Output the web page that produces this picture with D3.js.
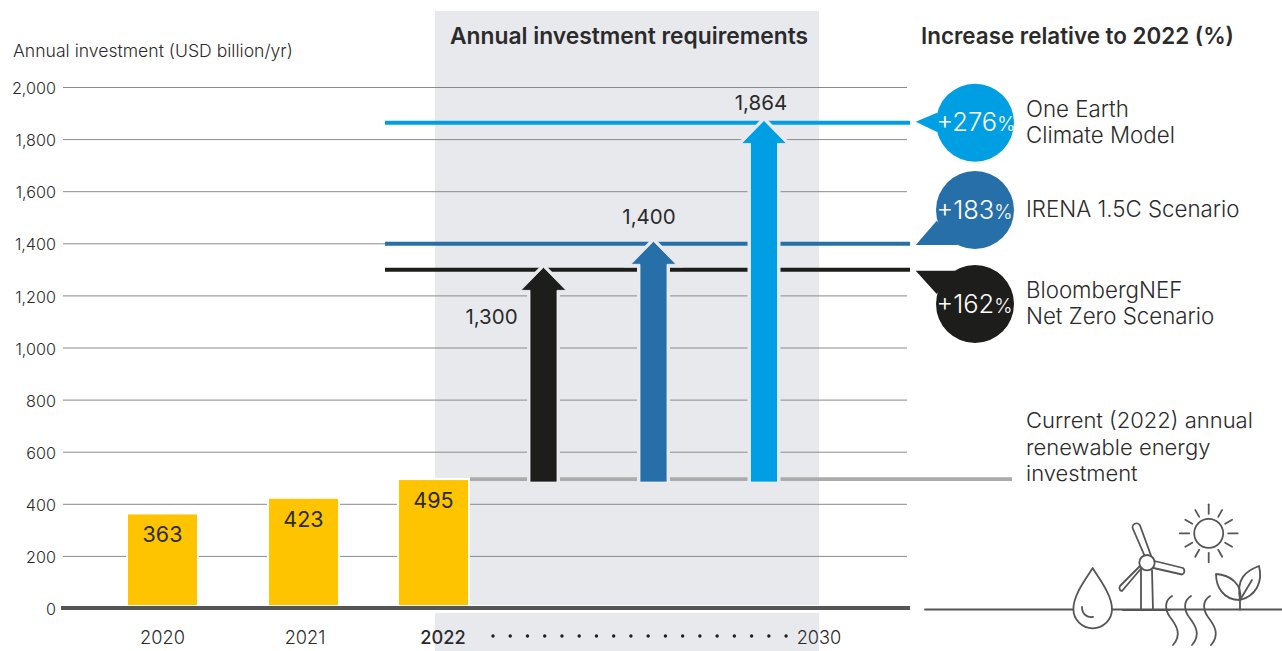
<!DOCTYPE html>
<html><head><meta charset="utf-8">
<script src="https://cdn.jsdelivr.net/npm/d3@7"></script>
<style>
html,body{margin:0;padding:0;background:#fff}
svg{display:block}
text{font-family:Inter,"Open Sans",sans-serif;fill:#2b2b2b}
</style></head><body><svg id="c" width="1282" height="651"></svg>
<script>
const barYears = ["2020","2021","2022"];
const barValues = [363,423,495];
const scenarioNames = ["BloombergNEF Net Zero Scenario","IRENA 1.5C Scenario","One Earth Climate Model"];
const scenarioValues = [1300,1400,1864];
const scenarioIncrease = ["+162","+183","+276"];
const scenarioColors = ["#1d1d1b","#276fa9","#009fe3"];
const scenarioLabelLines = [["BloombergNEF","Net Zero Scenario"],["IRENA 1.5C Scenario"],["One Earth","Climate Model"]];
const yTicks = [0,200,400,600,800,1000,1200,1400,1600,1800,2000];
const currentValue = 495;

const svg = d3.select("#c");
const y = d3.scaleLinear().domain([0,2000]).range([608,87]);
const xBar = d3.scaleOrdinal().domain(barYears).range([162.5,303.5,433.5]);
const xArrow = d3.scaleOrdinal().domain(scenarioNames).range([543.5,653.5,764]);
const panel = "#e8e9ed";

svg.append("rect").attr("x",435).attr("y",11).attr("width",384).attr("height",594).attr("fill",panel);
svg.append("rect").attr("x",435).attr("y",613).attr("width",384).attr("height",38).attr("fill",panel);

// axis + grid
const axis = d3.axisLeft(y).tickValues(yTicks).tickFormat(d3.format(",")).tickSize(0).tickPadding(0);
const ag = svg.append("g").attr("transform","translate(56,0)").call(axis);
ag.select(".domain").remove();
ag.selectAll("text").attr("x",0).attr("dy","0.38em").style("font-size","16.2px").style("font-family","Inter").style("fill","#2b2b2b").style("font-weight",300)
  .attr("transform","translate(0,0.5)");
ag.selectAll(".tick line").attr("x1",7).attr("x2",851).attr("stroke","#8a8a8a").attr("stroke-width",1);

// current line
svg.append("line").attr("x1",470).attr("x2",1012).attr("y1",y(currentValue)).attr("y2",y(currentValue))
  .attr("stroke","#ababab").attr("stroke-width",3.8);

// scenario lines
svg.append("g").selectAll("line").data(scenarioValues).join("line")
  .attr("x1",385).attr("x2",910).attr("y1",d=>y(d)+0.4).attr("y2",d=>y(d)+0.4)
  .attr("stroke",(d,i)=>scenarioColors[i]).attr("stroke-width",4);

// arrows
const base = y(currentValue)+3;
function arrowPath(cx,top){
  const p=[[cx,top],[cx+22.5,top+23],[cx+13.5,top+23],[cx+13.5,base],[cx-13.5,base],[cx-13.5,top+23],[cx-22.5,top+23]];
  return "M"+p.join("L")+"Z";
}
const ar = svg.append("g").selectAll("g").data(scenarioValues).join("g");
ar.append("path").attr("d",(d,i)=>arrowPath(xArrow(scenarioNames[i]),y(d)-2))
  .attr("fill",(d,i)=>scenarioColors[i]).attr("stroke",panel).attr("stroke-width",6).attr("stroke-linejoin","miter");
ar.append("path").attr("d",(d,i)=>arrowPath(xArrow(scenarioNames[i]),y(d)-2))
  .attr("fill",(d,i)=>scenarioColors[i]).attr("stroke","#eef0f3").attr("stroke-width",0.8);

// bars
const bars = svg.append("g");
bars.selectAll("rect").data(barValues).join("rect")
  .attr("x",(d,i)=>xBar(barYears[i])-35.5).attr("width",71)
  .attr("y",d=>y(d)).attr("height",d=>y(0)-2-y(d))
  .attr("fill","#ffc400").attr("stroke","#fff").attr("stroke-width",2);
bars.selectAll("text").data(barValues).join("text")
  .attr("x",(d,i)=>xBar(barYears[i])).attr("y",d=>y(d)+29).attr("text-anchor","middle")
  .style("font-size","21.5px").text(d=>d);

// baseline
svg.append("line").attr("x1",61).attr("x2",910).attr("y1",608).attr("y2",608).attr("stroke","#555").attr("stroke-width",4);

// x labels
svg.append("g").selectAll("text").data(barYears).join("text")
  .attr("x",(d,i)=>[162.5,305,443][i]).attr("y",644).attr("text-anchor","middle")
  .style("font-size","18.2px").style("font-weight",(d,i)=>i==2?500:300).text(d=>d);
svg.append("text").attr("x",819).attr("y",644).attr("text-anchor","middle").style("font-size","18.2px").style("font-weight",300).text("2030");
svg.append("g").selectAll("circle").data(d3.range(18)).join("circle")
  .attr("cx",d=>493+d*17.24).attr("cy",636).attr("r",1.7).attr("fill","#1d1d1b");

// value labels
const valuePos = [[491.5,324],[649,224],[761,110]];
svg.append("g").selectAll("text").data(scenarioValues).join("text")
  .attr("x",(d,i)=>valuePos[i][0]).attr("y",(d,i)=>valuePos[i][1]).attr("text-anchor","middle")
  .style("font-size","20.5px").text(d=>d3.format(",")(d));

// titles
svg.append("text").attr("x",450).attr("y",44).style("font-size","22.8px").style("font-weight",600).text("Annual investment requirements");
svg.append("text").attr("x",921).attr("y",44).style("font-size","22.4px").style("font-weight",600).text("Increase relative to 2022 (%)");
svg.append("text").attr("x",13).attr("y",57).style("font-size","17.6px").style("font-weight",300).text("Annual investment (USD billion/yr)");

// bubbles
const cy = [304,210,122.7];
const tails = [
  [[915.7,270.7],[955,270.7],[936.7,294]],
  [[915.7,245],[936.7,220.7],[958,245]],
  [[915.7,121.7],[937,112.7],[937,132]]
];
const lineY = [[298,324],[217],[117,143]];
const b = svg.append("g").selectAll("g").data(scenarioIncrease).join("g");
b.append("circle").attr("cx",975).attr("cy",(d,i)=>cy[i]).attr("r",39).attr("fill",(d,i)=>scenarioColors[i]);
b.append("path").attr("d",(d,i)=>"M"+tails[i].join("L")+"Z").attr("fill",(d,i)=>scenarioColors[i]);
const bt = b.append("text").attr("x",936.5).attr("y",(d,i)=>cy[i]+8.5).style("font-size","25.5px").style("font-weight",300).style("fill","#fff");
bt.append("tspan").style("fill","#fff").text(d=>d);
bt.append("tspan").style("fill","#fff").style("font-size","19.5px").text("%");
b.each(function(d,i){
  d3.select(this).selectAll("text.l").data(scenarioLabelLines[i]).join("text").attr("class","l")
    .attr("x",1026).attr("y",(t,j)=>lineY[i][j]).style("font-size","22.3px").style("font-weight",300).text(t=>t);
});
svg.append("g").selectAll("text").data(["Current (2022) annual","renewable energy","investment"]).join("text")
  .attr("x",1026).attr("y",(d,i)=>428+i*26.5).style("font-size","22px").style("font-weight",300).text(d=>d);

// icon strip
const ic = svg.append("g").attr("fill","none").attr("stroke","#555").attr("stroke-width",1.8).attr("stroke-linecap","round").attr("stroke-linejoin","round");
ic.append("line").attr("x1",925).attr("x2",1282).attr("y1",609.5).attr("y2",609.5);
// drop
ic.append("path").attr("fill","#fff").attr("d","M1092.7,568 C1097,576 1112,594 1112,609 A19.3,19.3 0 0 1 1073.4,609 C1073.4,594 1088,576 1092.7,568Z");
ic.append("path").attr("d","M1082,607 C1082,614 1087,618 1093,617");
// turbine
ic.append("path").attr("d","M1141,569 L1141,610 M1152,570 L1153,610 M1123,610 L1170,610");
ic.append("circle").attr("cx",1147).attr("cy",562.7).attr("r",7.7).attr("fill","#fff");
ic.append("path").attr("d","M1144.5,555.5 L1133,529 A3.8,3.8 0 0 1 1140,525.5 L1151,555.5");
ic.append("path").attr("d","M1154.5,561 L1183,568 A3.8,3.8 0 0 1 1182,574.5 L1153.5,568");
ic.append("path").attr("d","M1141.5,568 L1122,591 A3.8,3.8 0 0 1 1120,590 A3.8,3.8 0 0 1 1120,586 L1140,566");
// sun
ic.append("circle").attr("cx",1208.7).attr("cy",533.3).attr("r",14.5);
d3.range(12).forEach(k=>{
  const a=k*Math.PI/6, r1=k%3==0?19.5:19, r2=k%3==0?29:27;
  ic.append("line").attr("x1",1208.7+r1*Math.cos(a)).attr("y1",533.3+r1*Math.sin(a))
    .attr("x2",1208.7+r2*Math.cos(a)).attr("y2",533.3+r2*Math.sin(a));
});
// heat waves
[0,19,38].forEach(dx=>{
  ic.append("path").attr("d",`M${1172+dx},596 C${1164+dx},601 ${1165+dx},610 ${1170+dx},617 C${1177+dx},626 ${1182+dx},635 ${1173+dx},645`);
});
// leaves
ic.append("path").attr("d","M1240,609.5 L1240,600");
ic.append("path").attr("d","M1240,600 C1222,600 1216,585 1216,574 C1230,575 1243,584 1240,600Z");
ic.append("path").attr("d","M1240,600 C1256,596 1263,582 1259,566 C1246,571 1236,578 1240,600Z M1240,600 L1252,580");
</script></body></html>
